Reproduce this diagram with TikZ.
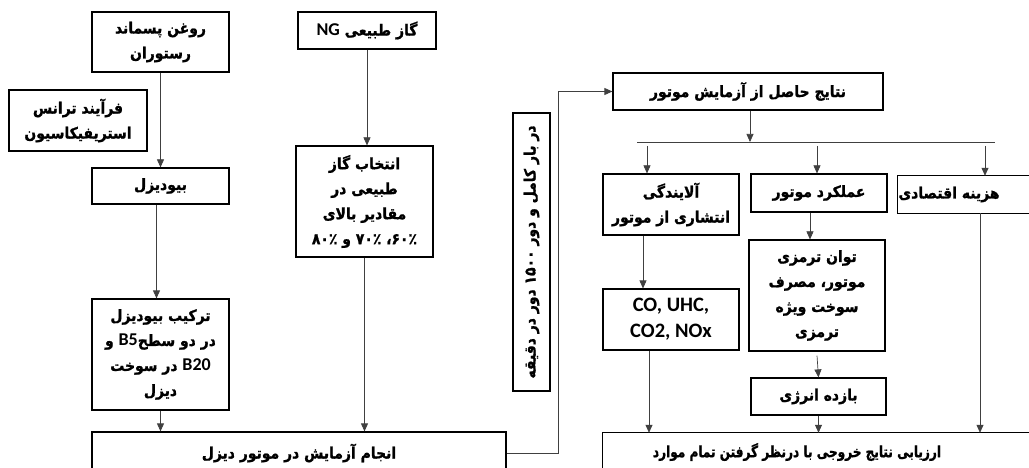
\documentclass[tikz,border=0pt]{standalone}
\usepackage{fontspec}
\usetikzlibrary{arrows.meta,calc}
\TeXXeTstate=1
\newfontfamily\fa[Script=Arabic,FakeStretch=0.9,FakeBold=1.2]{DejaVu Sans Bold}
\newfontfamily\fan[Script=Arabic,FakeStretch=0.78,FakeBold=1.2]{DejaVu Sans Bold}
\newfontfamily\la{Carlito Bold}
\newcommand\RL[1]{\beginR #1\endR}
\newcommand\LA[1]{{\la\fontsize{18}{25}\selectfont #1}}
\begin{document}
\begin{tikzpicture}[x=1pt,y=-1pt,
  txt/.style={align=center,inner sep=0pt,font=\fa\fontsize{15.5}{25}\selectfont},
  box/.style={txt,draw,line width=1.2pt},
  boxline/.style={draw,line width=1.2pt},
  con/.style={draw=black!75,line width=0.7pt},
  arr/.style={con,-{Triangle[length=8pt,width=7pt]}}]
\useasboundingbox (0,0) rectangle (1029,468);
\clip (0,0) rectangle (1029,468);
% left column
\node[box,minimum width=137,minimum height=60] (oil) at (160.5,42) {\RL{روغن پسماند}\\\RL{رستوران}};
\node[box,minimum width=138,minimum height=61] (trans) at (78,120.5) {\RL{فرآیند ترانس}\\\RL{استریفیکاسیون}};
\node[box,minimum width=137,minimum height=36] (bio) at (160.5,186) {\RL{بیودیزل}};
\node[box,minimum width=137,minimum height=111] (blend) at (160.5,354.5) {\RL{ترکیب بیودیزل}\\\RL{در دو سطح\LA{B5} و}\\\RL{\LA{B20} در سوخت}\\\RL{دیزل}};
% NG column
\node[box,minimum width=138,minimum height=37] (ng) at (367,30.5) {\RL{گاز طبیعی \LA{NG}}};
\node[box,minimum width=137,minimum height=111] (ngsel) at (364.5,201.5) {\RL{انتخاب گاز}\\\RL{طبیعی در}\\\RL{مقادیر بالای}\\\RL{۶۰٪، ۷۰٪ و ۸۰٪}};
% engine test
\node[box,minimum width=414,minimum height=42] (test) at (299,453) {\RL{انجام آزمایش در موتور دیزل}};
\node[box,minimum width=278,minimum height=37,rotate=90] (rot) at (531.5,252) {\RL{در بار کامل و دور ۱۵۰۰ دور در دقیقه}};
% results
\node[box,minimum width=270,minimum height=37] (res) at (748,91.5) {\RL{نتایج حاصل از آزمایش موتور}};
\node[box,minimum width=136,minimum height=61] (poll) at (671,204.5) {\RL{آلایندگی}\\\RL{انتشاری از موتور}};
\node[box,minimum width=136,minimum height=38] (perf) at (819,193) {\RL{عملکرد موتور}};
\node[txt,minimum width=102,minimum height=37] (cost) at (949,194.5) {\RL{هزینه اقتصادی}};
\draw[boxline] (cost.north west) rectangle ($(cost.south east)+(60,0)$);
\node[box,minimum width=136,minimum height=61,font=\la\fontsize{20.5}{26}\selectfont] (co) at (671,319.5) {CO, UHC,\\CO2, NOx};
\node[box,minimum width=136,minimum height=111] (torque) at (817,295.5) {\RL{توان ترمزی}\\\RL{موتور، مصرف}\\\RL{سوخت ویژه}\\\RL{ترمزی}};
\node[box,minimum width=135,minimum height=37] (energy) at (818.5,396.5) {\RL{بازده انرژی}};
\node[txt,minimum width=388,minimum height=38,font=\fan\fontsize{15.5}{25}\selectfont] (eval) at (797,452) {\RL{ارزیابی نتایج خروجی با درنظر گرفتن تمام موارد}};
\draw[boxline] (eval.north west) rectangle ($(eval.south east)+(60,10)$);
% connectors left
\draw[arr] (oil.south) -- (bio.north);
\draw[arr] ([xshift=-4pt]bio.south) -- ([xshift=-4pt]blend.north);
\draw[arr] (blend.south) -- (blend.south |- test.north);
\draw[arr] (ng.south) -- (ng.south |- ngsel.north);
\draw[arr] (ngsel.south) -- (ngsel.south |- test.north);
\coordinate (bend) at (558,0);
\draw[arr] (test.east) -| (bend |- res.west) -- (res.west);
% connectors right
\coordinate (busL) at (637,142);
\coordinate (busR) at (995,142);
\draw[con] (busL) -- (busR);
\draw[arr] ([xshift=2pt]res.south) -- ([xshift=2pt]res.south |- busL);
\coordinate (d1) at (647,146);
\coordinate (d2) at (817,146);
\coordinate (d3) at (985,146);
\draw[arr] (d1) -- (d1 |- poll.north);
\draw[arr] (d2) -- (d2 |- perf.north);
\draw[arr] (d3) -- (d3 |- cost.north);
\draw[arr] ([xshift=-28pt]poll.south) -- ([xshift=-28pt]co.north);
\draw[arr] ([xshift=-9pt]perf.south) -- ([xshift=-7pt]torque.north);
\draw[arr] ([yshift=-4pt]torque.south) -- (energy.north);
\draw[arr] ([xshift=-22pt]co.south) -- ([xshift=-22pt]co.south |- eval.north);
\draw[arr] (energy.south) -- (energy.south |- eval.north);
\coordinate (cx) at (980,0);
\draw[arr] (cx |- cost.south) -- (cx |- eval.north);
\end{tikzpicture}
\end{document}
